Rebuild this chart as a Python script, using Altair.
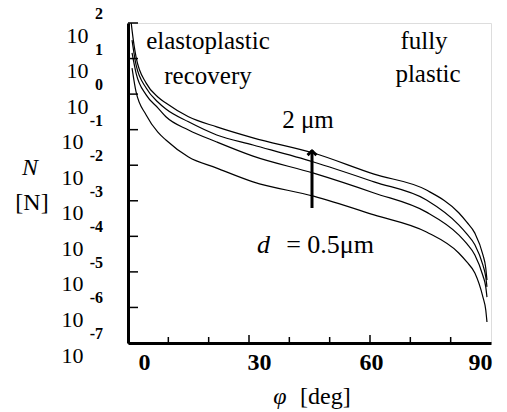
import altair as alt
import pandas as pd

# ---- data ----
phi_2um = [0.7, 1.0, 2, 4.5, 7.4, 9.4, 15, 22, 31, 46, 61, 74, 82, 84, 86, 88, 88.7, 89]
n_2um = [126, 63, 11, 2.04, 0.83, 0.56, 0.23, 0.12, 0.059, 0.022, 0.0056, 0.0020,
         4.6e-4, 2.5e-4, 1.23e-4, 3.0e-5, 1.29e-5, 5.9e-6]

phi_common = [1.0, 2, 4.5, 7.4, 9.4, 15, 22, 31, 46, 61, 74, 82, 84, 86, 88, 88.7, 89]
n_1_5um = [33, 6.6, 1.48, 0.60, 0.38, 0.166, 0.071, 0.037, 0.0123, 0.0034, 1.05e-3,
           2.1e-4, 1.17e-4, 5.8e-5, 1.55e-5, 7.2e-6, 3.8e-6]
n_1um = [14.5, 3.9, 0.95, 0.41, 0.23, 0.098, 0.045, 0.018, 0.006, 1.66e-3, 4.8e-4,
         1.10e-4, 6.2e-5, 3.0e-5, 7.8e-6, 3.8e-6, 1.95e-6]
n_0_5um = [5.4, 1.15, 0.26, 0.085, 0.051, 0.017, 0.0083, 0.0034, 1.35e-3, 4.0e-4,
           1.32e-4, 3.4e-5, 1.9e-5, 9.3e-6, 1.95e-6, 8.5e-7, 3.9e-7]

y_exponents = [2, 1, 0, -1, -2, -3, -4, -5, -6, -7]
x_label_values = [0, 30, 60, 90]
x_minor_ticks = [10, 20, 40, 50, 70, 80]
x_major_ticks = [30, 60]

FONT = "Liberation Serif"

rows = []
for p, n in zip(phi_2um, n_2um):
    rows.append({"phi": p, "N": n, "d": "2"})
for label_, ser in [("1.5", n_1_5um), ("1", n_1um), ("0.5", n_0_5um)]:
    for p, n in zip(phi_common, ser):
        rows.append({"phi": p, "N": n, "d": label_})
df = pd.DataFrame(rows)

yt = pd.DataFrame({"e": y_exponents})
yt["v"] = [10.0 ** e for e in y_exponents]
yt["exp"] = [str(e) for e in y_exponents]

xs = alt.Scale(domain=[0, 90], nice=False, zero=False)
ys = alt.Scale(type="log", domain=[1e-7, 1e2], nice=False)

x_axis = alt.Axis(
    values=x_label_values, title=None, grid=False, ticks=False, tickSize=0,
    domainColor="black", domainWidth=3,
    labelFont=FONT, labelFontSize=24, labelFontWeight="bold", labelColor="black",
    labelPadding=7,
    labelOffset={"condition": {"test": "datum.value < 45", "value": 10}, "value": 1},
)
y_axis = alt.Axis(
    values=[10.0 ** e for e in y_exponents], title=None, grid=False, ticks=False, tickSize=0,
    domainColor="black", domainWidth=3,
    labelExpr="'10'", labelFont=FONT, labelFontSize=22, labelColor="black",
    labelOffset=12,
    labelPadding={"condition": {"test": "datum.value >= 1", "value": 40}, "value": 45},
)

base = alt.Chart(df)

lines = base.mark_line(color="black", strokeWidth=1.2, interpolate="monotone", clip=True).encode(
    x=alt.X("phi:Q", scale=xs, axis=x_axis),
    y=alt.Y("N:Q", scale=ys, axis=y_axis),
    detail="d:N",
)

ytick_rules = alt.Chart(yt).mark_rule(color="black", strokeWidth=1.5).encode(
    y=alt.Y("v:Q", scale=ys), x=alt.value(0), x2=alt.value(10)
)
exp_text = alt.Chart(yt).mark_text(
    font=FONT, fontSize=16, fontWeight="bold", align="right", baseline="middle", dy=-9
).encode(y=alt.Y("v:Q", scale=ys), x=alt.value(-25), text="exp:N")

xminor = alt.Chart(pd.DataFrame({"t": x_minor_ticks})).mark_rule(color="black", strokeWidth=1.5).encode(
    x=alt.X("t:Q", scale=xs), y=alt.value(320), y2=alt.value(314)
)
xmajor = alt.Chart(pd.DataFrame({"t": x_major_ticks})).mark_rule(color="black", strokeWidth=1.5).encode(
    x=alt.X("t:Q", scale=xs), y=alt.value(320), y2=alt.value(312)
)

one = pd.DataFrame({"k": [0]})


def label(text, x, y, size=25, align="center", style="normal", weight="normal"):
    return alt.Chart(one).mark_text(
        text=text, font=FONT, fontSize=size, align=align, baseline="middle",
        fontStyle=style, fontWeight=weight, color="black",
    ).encode(x=alt.value(x), y=alt.value(y))


annotations = [
    label("elastoplastic", 80, 18),
    label("recovery", 80, 53),
    label("fully", 296, 18),
    label("plastic", 300, 51),
    label("2 μm", 180, 97),
    label("d", 129, 222, size=26, align="left", style="italic"),
    label("= 0.5μm", 246, 222, size=26, align="right"),
    label("N", -98, 145, size=24, style="italic"),
    label("[N]", -96, 180, size=24),
    label("φ", 152, 374, size=24, style="italic"),
    label("[deg]", 172, 374, size=24, align="left"),
]

arrow_shaft = alt.Chart(one).mark_rule(color="black", strokeWidth=3).encode(
    x=alt.value(184), y=alt.value(185), y2=alt.value(127)
)
arrow_head = alt.Chart(one).mark_point(
    shape="M-1,0.9L0,0L1,0.9", filled=False, color="black", strokeWidth=3, size=80, opacity=1
).encode(x=alt.value(184), y=alt.value(128))

chart = alt.layer(
    lines, ytick_rules, exp_text, xminor, xmajor, arrow_shaft, arrow_head, *annotations
).properties(
    width=363, height=320,
    autosize=alt.AutoSizeParams(type="none"),
    padding={"left": 128, "top": 23, "right": 16, "bottom": 69},
).configure_view(stroke="black", strokeWidth=2).configure(background="white")

chart.save("out.html", embed_options={"renderer": "svg", "actions": False})
